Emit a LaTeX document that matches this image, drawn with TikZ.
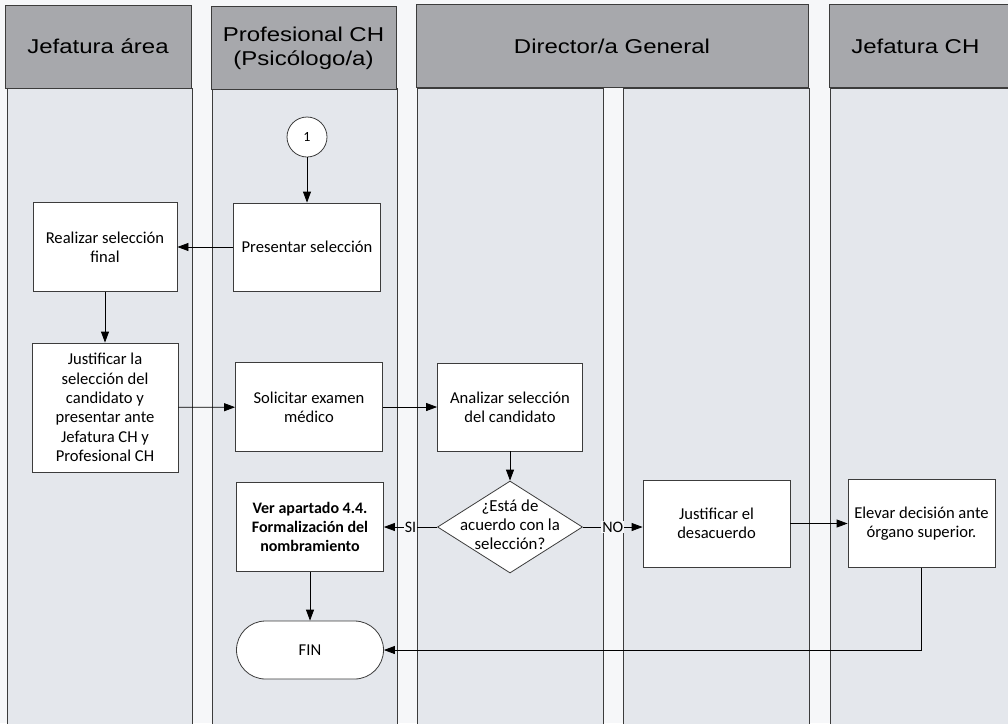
\documentclass[tikz,border=0pt]{standalone}
\usepackage{fontspec}
\setmainfont{Carlito}
\newfontfamily\headfont[FakeStretch=1.2]{Liberation Sans}
\usetikzlibrary{arrows.meta,shapes.geometric}
\definecolor{lanebg}{HTML}{E4E7EC}
\definecolor{gapbg}{HTML}{F6F7F9}
\definecolor{headbg}{HTML}{A7A8AC}
\definecolor{linec}{HTML}{3C3C3C}
\begin{document}
\begin{tikzpicture}[x=1pt, y=-1pt, >={Triangle[length=11pt,width=8pt]}, line width=.8pt,
  lane/.style={draw=linec, fill=lanebg},
  head/.style={draw=linec, fill=headbg, minimum height=83, inner sep=0, align=center, font=\headfont\fontsize{20}{24}\selectfont},
  box/.style={draw=linec, fill=white, minimum width=147, minimum height=88, inner sep=2pt, align=center, font=\fontsize{16.6}{19.3}\selectfont},
  dec/.style={draw=linec, fill=white, diamond, aspect=1.58, inner sep=0, minimum width=145, minimum height=92, font=\fontsize{16.8}{19.3}\selectfont},
  term/.style={box, minimum height=58, rounded corners=29},
  circ/.style={draw=linec, fill=white, circle, minimum size=40, inner sep=0, font=\fontsize{14}{16}\selectfont},
  lbl/.style={fill=gapbg, inner sep=1pt, font=\fontsize{16}{18}\selectfont}]
\useasboundingbox[fill=gapbg] (0,0) rectangle (1008,723);
\foreach \a/\b in {7/192,212/397,417/603,623/809,830/1020}
{
    \draw[lane] (\a,88) rectangle (\b,730);
}
\node[head, minimum width=186] (h1) at (98,46.5) {Jefatura área};
\node[head, minimum width=185] (h2) at (303.5,48) {Profesional CH\\(Psicólogo/a)};
\node[head, minimum width=392] (h3) at (612,46) {Director/a General};
\node[head, minimum width=190, anchor=west] (h4) at (829,46) {Jefatura CH\hspace{18pt}};
\node[circ] (uno) at (307,137) {1};
\node[box] (pres) at (307,247) {Presentar selección};
\node[box, minimum width=144, minimum height=89] (real) at (105,247) {Realizar selección\\final};
\node[box, minimum width=146, minimum height=129] (just) at (105,407.5) {Justificar la\\selección del\\candidato y\\presentar ante\\Jefatura CH y\\Profesional CH};
\node[box, minimum height=89] (soli) at (309,407) {Solicitar examen\\médico};
\node[box, minimum width=145] (anal) at (510,407) {Analizar selección\\del candidato};
\node[dec] (dec) at (510,527) {\smash{\raisebox{-4pt}{\begin{tabular}{@{}c@{}}¿Está de\\acuerdo con la\\selección?\end{tabular}}}};
\node[box, minimum height=89, font=\fontsize{16}{19.3}\selectfont\bfseries] (ver) at (310,527) {Ver apartado 4.4.\\Formalización del\\nombramiento};
\node[box, minimum height=87] (desa) at (716.5,523.5) {Justificar el\\desacuerdo};
\node[box] (elev) at (921.5,523.5) {Elevar decisión ante\\órgano superior.};
\node[term] (fin) at (310,650) {FIN};
\draw[->] (uno) -- (pres);
\draw[->] (pres) -- (real);
\draw[->] (real) -- (just);
\draw[->] (just) -- (soli);
\draw[->] (soli) -- (anal);
\draw[->] (anal) -- (dec);
\draw[->] (dec) -- node[lbl]{SI} (ver);
\draw[->] (dec.east) -- node[lbl]{NO} (dec.east -| desa.west);
\draw[->] (desa) -- (elev);
\draw[->] (elev) |- (fin);
\draw[->] (ver) -- (fin);
\end{tikzpicture}
\end{document}
